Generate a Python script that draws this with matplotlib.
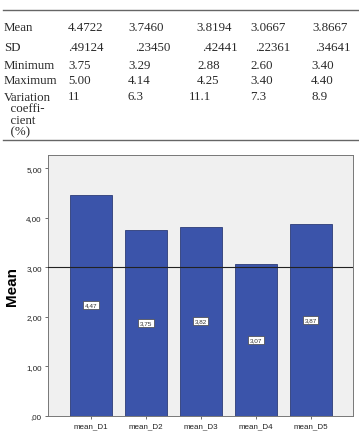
import matplotlib
matplotlib.use("Agg")
import matplotlib.pyplot as plt
import numpy as np

# table data
row_labels = ["Mean", "SD", "Minimum", "Maximum", "Variation\n  coeffi-\n  cient\n  (%)"]
col1 = ["4.4722", ".49124", "3.75", "5.00", "11"]
col2 = ["3.7460", ".23450", "3.29", "4.14", "6.3"]
col3 = ["3.8194", ".42441", "2.88", "4.25", "11.1"]
col4 = ["3.0667", ".22361", "2.60", "3.40", "7.3"]
col5 = ["3.8667", ".34641", "3.40", "4.40", "8.9"]

# chart data
categories = ["mean_D1", "mean_D2", "mean_D3", "mean_D4", "mean_D5"]
means = [4.47, 3.75, 3.82, 3.07, 3.87]
ref_line = 3.0
yticks = [0, 1, 2, 3, 4, 5]
ytick_labels = [",00", "1,00", "2,00", "3,00", "4,00", "5,00"]

W, H = 359, 435
fig = plt.figure(figsize=(W / 100, H / 100), dpi=100)

# ---- table (figure pixel coords -> fractions) ----
def fx(px):
    return px / W

def fy(py):
    return 1 - py / H

serif = "Liberation Serif"
fs_tab = 9.3
tcol = "#2a2a2a"
fig.add_artist(plt.Line2D([fx(3), fx(358)], [fy(10.7), fy(10.7)], color="#666666", lw=1.0))
fig.add_artist(plt.Line2D([fx(3), fx(358)], [fy(140.7), fy(140.7)], color="#666666", lw=1.0))

row_y = [27.7, 47.7, 65.7, 80.7, 97.3]
# per-column left x of each cell (slightly ragged like the source)
col_x = [
    [68, 68, 68, 68, 68],
    [128, 135, 128, 128, 128],
    [196, 202, 197, 197, 189],
    [250, 255, 250, 250, 250],
    [312, 315, 311, 311, 311],
]
for i, lab in enumerate(row_labels):
    if i < 4:
        fig.text(fx(4), fy(row_y[i]), lab, family=serif, fontsize=fs_tab,
                 va="center", ha="left", color=tcol)
    else:
        fig.text(fx(4), fy(row_y[i] - 5.5), lab, family=serif, fontsize=fs_tab,
                 va="top", ha="left", linespacing=0.95, color=tcol)
for c, col in enumerate([col1, col2, col3, col4, col5]):
    for i, val in enumerate(col):
        fig.text(fx(col_x[c][i]), fy(row_y[i]), val, family=serif,
                 fontsize=fs_tab, va="center", ha="left", color=tcol)

# ---- bar chart ----
sans = "Liberation Sans"
ax = fig.add_axes([48 / W, 1 - 416.7 / H, 305 / W, (416.7 - 156) / H])
ax.set_facecolor("#f0f0f0")
x = np.arange(len(categories))
ax.bar(x, means, width=0.76, color="#3b54aa", edgecolor="#2c3c78", linewidth=0.6, zorder=2)
ax.axhline(ref_line, color="#222222", lw=0.8, zorder=3)
for xi, m in zip(x, means):
    ax.text(xi, m / 2, ("%.2f" % m).replace(".", ","), ha="center", va="center",
            fontsize=4.6, family=sans, color="#333333", zorder=4,
            bbox=dict(boxstyle="square,pad=0.25", fc="white", ec="#444444", lw=0.5))

ax.set_xlim(-0.78, 4.77)
ax.set_ylim(0, 5.27)
ax.set_xticks(x)
ax.set_xticklabels(categories, fontsize=5.8, family=sans, color="#222222")
ax.set_yticks(yticks)
ax.set_yticklabels(ytick_labels, fontsize=5.8, family=sans, color="#222222")
ax.tick_params(axis="both", length=2.5, width=0.6, color="#555555", pad=2)
for s in ax.spines.values():
    s.set_color("#777777")
    s.set_linewidth(0.7)
ax.set_ylabel("Mean", fontsize=11, fontweight="bold", family=sans, labelpad=5)

fig.savefig("out.png", dpi=100)
